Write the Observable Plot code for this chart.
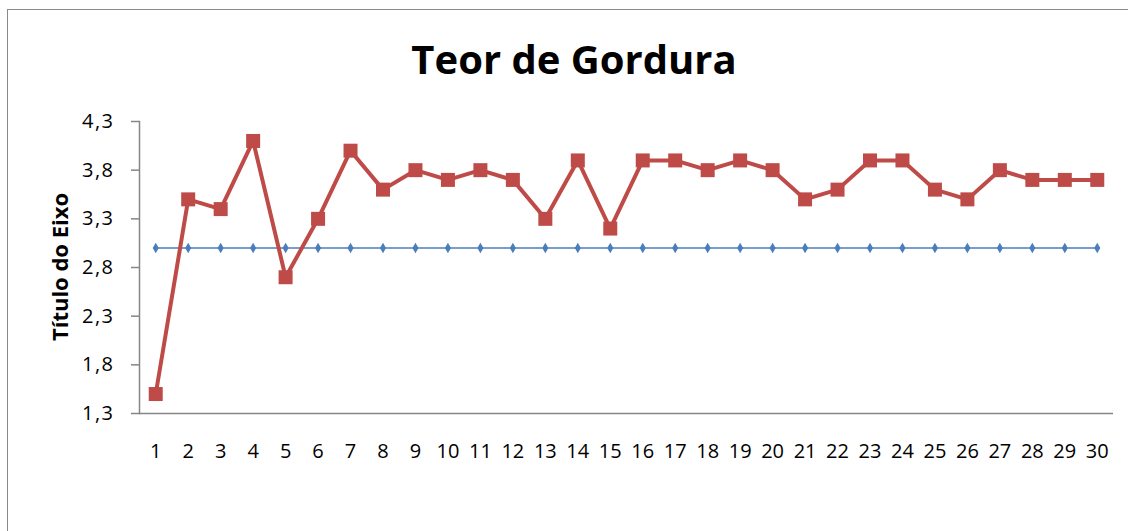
<!DOCTYPE html>
<html>
<head>
<meta charset="utf-8">
<script src="https://cdn.jsdelivr.net/npm/d3@7"></script>
<script src="https://cdn.jsdelivr.net/npm/@observablehq/plot@0.6"></script>
<style>
  html, body { margin: 0; padding: 0; background: #fff; overflow: hidden; }
  #wrap { position: relative; width: 1128px; height: 531px; overflow: hidden; font-family: "Open Sans", sans-serif; }
  #border { position: absolute; left: 7px; top: 9px; width: 1200px; height: 600px; border-left: 1.5px solid #8a8a8a; border-top: 1.5px solid #8a8a8a; }
  #title { position: absolute; left: 0; width: 1148px; top: 39px; text-align: center; font-size: 40px; font-weight: 700; color: #000; line-height: 40px; white-space: nowrap; }
  #ylabel { position: absolute; left: -91px; top: 256px; width: 300px; height: 22px; line-height: 22px; text-align: center; font-size: 22px; font-weight: 700; color: #000; transform: rotate(-90deg); white-space: nowrap; }
  #chart { position: absolute; left: 0; top: 0; }
  g[aria-label="y-axis tick label"] text { letter-spacing: 1.5px; }
</style>
</head>
<body>
<div id="wrap">
  <div id="border"></div>
  <div id="chart"></div>
  <div id="title">Teor de Gordura</div>
  <div id="ylabel"></div>
</div>
<script>
const amostras = d3.range(1, 31);
const teorGordura = [1.5, 3.5, 3.4, 4.1, 2.7, 3.3, 4.0, 3.6, 3.8, 3.7, 3.8, 3.7, 3.3, 3.9, 3.2, 3.9, 3.9, 3.8, 3.9, 3.8, 3.5, 3.6, 3.9, 3.9, 3.6, 3.5, 3.8, 3.7, 3.7, 3.7];
const limite = [3.0, 3.0, 3.0, 3.0, 3.0, 3.0, 3.0, 3.0, 3.0, 3.0, 3.0, 3.0, 3.0, 3.0, 3.0, 3.0, 3.0, 3.0, 3.0, 3.0, 3.0, 3.0, 3.0, 3.0, 3.0, 3.0, 3.0, 3.0, 3.0, 3.0];
const yTicks = [1.3, 1.8, 2.3, 2.8, 3.3, 3.8, 4.3];
const yLabel = "Título do Eixo";

document.getElementById("ylabel").textContent = yLabel;

const red = amostras.map((a, i) => ({x: a, y: teorGordura[i]}));
const blue = amostras.map((a, i) => ({x: a, y: limite[i]}));
const fmt = d => d.toFixed(1).replace(".", ",");

const plot = Plot.plot({
  width: 1128,
  height: 531,
  marginLeft: 139,
  marginRight: 15,
  marginTop: 121,
  marginBottom: 118,
  style: {fontFamily: "'Open Sans', sans-serif", fontSize: "20px", color: "#000", background: "transparent"},
  x: {type: "point", domain: amostras, padding: 0.5, round: false},
  y: {domain: [1.3, 4.3]},
  marks: [
    Plot.ruleY([1.3], {stroke: "#868686", strokeWidth: 1.5}),
    Plot.frame({anchor: "left", stroke: "#868686", strokeWidth: 1.5}),
    Plot.axisY({ticks: yTicks, tickFormat: fmt, tickSize: 8, tickPadding: 17, stroke: "#868686", strokeOpacity: 1, strokeWidth: 1.5, label: null, fontSize: 20, fill: "#000"}),
    Plot.axisX({tickSize: 0, tickPadding: 30, label: null, fontSize: 20, fill: "#000"}),
    Plot.line(blue, {x: "x", y: "y", stroke: "#4a7ebb", strokeWidth: 1.5}),
    Plot.dot(blue, {x: "x", y: "y", symbol: "diamond", r: 3.2, fill: "#4a7ebb", stroke: "none"}),
    Plot.line(red, {x: "x", y: "y", stroke: "#be4b48", strokeWidth: 4}),
    Plot.dot(red, {x: "x", y: "y", symbol: "square", r: 7.9, fill: "#be4b48", stroke: "none"})
  ]
});
document.getElementById("chart").appendChild(plot);
</script>
</body>
</html>
